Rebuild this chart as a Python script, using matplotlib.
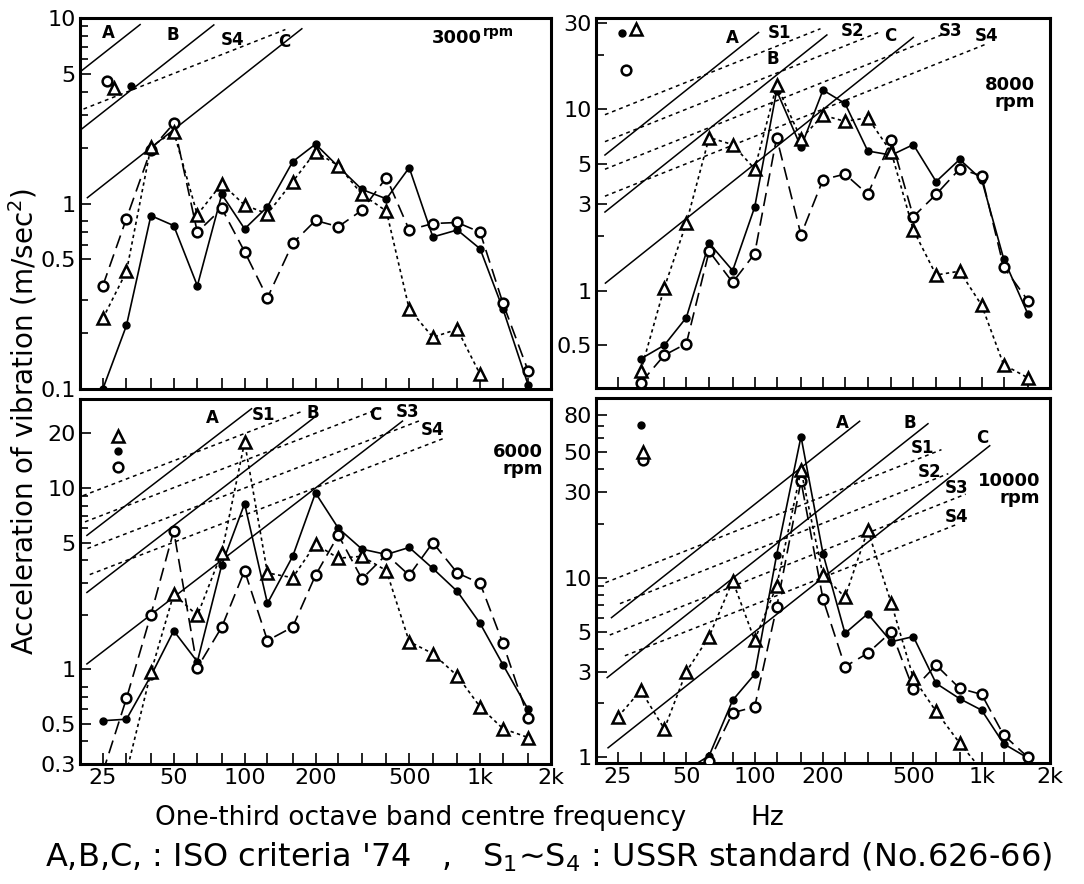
import numpy as np
import matplotlib.pyplot as plt
from matplotlib.ticker import FixedLocator, FixedFormatter, NullLocator

plt.rcParams['font.family'] = ['DejaVu Sans']

nan = np.nan

# one-third octave band centre frequencies (Hz)
freqs = [25, 31.5, 40, 50, 63, 80, 100, 125, 160, 200, 250, 315, 400, 500, 630, 800, 1000, 1250, 1600]

# 3000 rpm
r3000_dot = [0.1, 0.22, 0.86, 0.76, 0.36, 1.12, 0.73, 0.96, 1.68, 2.09, 1.58, 1.19, 1.06, 1.56, 0.66, 0.72, 0.57, 0.27, 0.105]
r3000_ring = [0.36, 0.83, 1.95, 2.7, 0.70, 0.94, 0.55, 0.31, 0.61, 0.81, 0.75, 0.92, 1.38, 0.72, 0.78, 0.79, 0.70, 0.29, 0.125]
r3000_tri = [0.24, 0.43, 2.02, 2.44, 0.87, 1.28, 0.98, 0.88, 1.31, 1.9, 1.6, 1.12, 0.91, 0.27, 0.19, 0.21, 0.12, nan, nan]

# 8000 rpm
r8000_dot = [nan, 0.42, 0.50, 0.71, 1.83, 1.29, 2.89, 12.7, 6.2, 12.8, 10.8, 5.9, 5.6, 6.4, 4.0, 5.3, 4.1, 1.5, 0.74]
r8000_ring = [nan, 0.31, 0.44, 0.51, 1.65, 1.11, 1.6, 7.0, 2.03, 4.1, 4.4, 3.4, 6.8, 2.56, 3.4, 4.7, 4.3, 1.35, 0.88]
r8000_tri = [nan, 0.36, 1.04, 2.36, 7.0, 6.4, 4.7, 13.6, 6.9, 9.3, 8.6, 9.0, 5.8, 2.16, 1.22, 1.28, 0.83, 0.39, 0.33]

# 6000 rpm
r6000_dot = [0.52, 0.53, 0.92, 1.63, 1.10, 3.77, 8.2, 2.31, 4.2, 9.4, 6.0, 4.6, 4.3, 4.7, 3.6, 2.69, 1.79, 1.06, 0.60]
r6000_ring = [0.27, 0.69, 2.0, 5.8, 1.02, 1.71, 3.5, 1.44, 1.71, 3.3, 5.5, 3.15, 4.3, 3.3, 5.0, 3.4, 2.98, 1.39, 0.54]
r6000_tri = [nan, 0.27, 0.96, 2.6, 1.98, 4.4, 17.9, 3.4, 3.2, 4.9, 4.1, 4.2, 3.5, 1.42, 1.22, 0.92, 0.62, 0.47, 0.42]

# 10000 rpm
r10000_dot = [nan, nan, nan, 0.85, 1.02, 2.08, 2.9, 13.4, 61, 13.6, 4.9, 6.3, 4.4, 4.7, 2.58, 2.12, 1.83, 1.19, 0.99]
r10000_ring = [nan, nan, nan, 0.8, 0.95, 1.77, 1.91, 6.85, 34.5, 7.6, 3.2, 3.8, 5.0, 2.39, 3.26, 2.42, 2.24, 1.33, 1.0]
r10000_tri = [1.68, 2.36, 1.44, 3.0, 4.7, 9.6, 4.5, 9.0, 39.6, 10.3, 7.8, 18.4, 7.2, 2.77, 1.80, 1.2, 0.85, nan, nan]

# overall values marked at the upper left of each panel (dot, ring, tri)
overall_3000 = [4.3, 4.6, 4.2]
overall_8000 = [26.4, 16.6, 27.9]
overall_6000 = [16.1, 13.1, 19.4]
overall_10000 = [71, 45, 50]

# criteria levels at 25 Hz; ISO lines rise with f, USSR with sqrt(f)
iso_levels = {'A': 6.4, 'B': 3.1, 'C': 1.25}
ussr_levels = {'S1': 10.0, 'S2': 7.1, 'S3': 5.0, 'S4': 3.55}

# drawn extent of each criterion line (Hz) per panel
extent_3000 = {'A': (20, 36), 'B': (20, 74), 'C': (21.5, 175), 'S4': (20.7, 149)}
extent_8000 = {'A': (21.9, 104), 'B': (21.9, 208), 'C': (22, 500),
               'S1': (21.9, 195), 'S2': (21.9, 355), 'S3': (21.9, 680), 'S4': (21.9, 1050)}
extent_6000 = {'A': (21.4, 107), 'B': (21.4, 204), 'C': (21.4, 468),
               'S1': (20.6, 175), 'S2': (21, 382), 'S3': (21.5, 555), 'S4': (22, 700)}
extent_10000 = {'A': (23.4, 290), 'B': (22.4, 580), 'C': (22.6, 1085),
                'S1': (22, 665), 'S2': (25.5, 713), 'S3': (23, 850), 'S4': (26.8, 790)}

# label spots for the criterion lines (freq, value)
labels_3000 = {'A': (26.3, 8.3), 'B': (49.6, 8.1), 'S4': (89, 7.6), 'C': (148, 7.4)}
labels_8000 = {'A': (80, 24.9), 'S1': (129, 26.5), 'B': (120, 18.9), 'S2': (270, 27),
               'C': (394, 25.6), 'S3': (726, 27), 'S4': (1056, 25.6)}
labels_6000 = {'A': (72.8, 24.4), 'S1': (120, 25.3), 'B': (195, 26), 'C': (358, 25.3),
               'S3': (494, 26.4), 'S4': (626, 20.9)}
labels_10000 = {'A': (243, 73), 'B': (484, 73), 'S1': (546, 53), 'C': (1002, 60),
                'S2': (592, 38.8), 'S3': (778, 31.4), 'S4': (778, 21.8)}

xtick_labels = {25: '25', 50: '50', 100: '100', 200: '200', 500: '500', 1000: '1k', 2000: '2k'}

W, H = 1084, 884
fig = plt.figure(figsize=(W / 100, H / 100), dpi=100)


def box(l, t, r, b):
    return [l / W, (H - b) / H, (r - l) / W, (b - t) / H]


panels = [
    dict(rect=box(80, 18, 551, 389), ylim=(0.1, 10), data=(r3000_dot, r3000_ring, r3000_tri),
         overall=overall_3000, ox=(33, 26, 28), extent=extent_3000, labels=labels_3000,
         yt=[0.1, 0.5, 1, 5, 10], ym=[0.2, 0.3, 0.6, 0.7, 0.8, 2, 3, 4, 6, 7, 8, 9],
         ytl=['0.1', '0.5', '1', '5', '10'], rpm='3000', xlab=False),
    dict(rect=box(596, 18, 1050, 388), ylim=(0.29, 32), data=(r8000_dot, r8000_ring, r8000_tri),
         overall=overall_8000, ox=(26, 27, 30), extent=extent_8000, labels=labels_8000,
         yt=[0.5, 1, 3, 5, 10, 30], ym=[2, 20],
         ytl=['0.5', '1', '3', '5', '10', '30'], rpm='8000', xlab=False),
    dict(rect=box(80, 399, 551, 764), ylim=(0.3, 31), data=(r6000_dot, r6000_ring, r6000_tri),
         overall=overall_6000, ox=(29, 29, 29), extent=extent_6000, labels=labels_6000,
         yt=[0.3, 0.5, 1, 5, 10, 20], ym=[0.4, 0.6, 0.7, 0.8, 2, 3, 4, 6, 7, 8, 9],
         ytl=['0.3', '0.5', '1', '5', '10', '20'], rpm='6000', xlab=True),
    dict(rect=box(596, 398, 1050, 763), ylim=(0.93, 100), data=(r10000_dot, r10000_ring, r10000_tri),
         overall=overall_10000, ox=(31.7, 32.3, 32.3), extent=extent_10000, labels=labels_10000,
         yt=[1, 3, 5, 10, 30, 50, 80], ym=[2, 4, 6, 7, 8, 9, 20, 40, 60, 70],
         ytl=['1', '3', '5', '10', '30', '50', '80'], rpm='10000', xlab=True),
]

for p in panels:
    ax = fig.add_axes(p['rect'])
    ax.set_xscale('log')
    ax.set_yscale('log')
    ax.set_xlim(20, 2000)
    ax.set_ylim(*p['ylim'])

    # criteria lines
    for name, (f0, f1) in p['extent'].items():
        fx = np.array([f0, f1])
        if name in iso_levels:
            ax.plot(fx, iso_levels[name] * fx / 25, color='k', lw=1.1)
        else:
            ax.plot(fx, ussr_levels[name] * np.sqrt(fx / 25), color='k', lw=1.1,
                    linestyle=(0, (2.5, 2.5)))
    for name, (fx, fy) in p['labels'].items():
        ax.text(fx, fy, name, fontsize=12, fontweight='bold', ha='center', va='center')

    dot, ring, tri = p['data']
    ax.plot(freqs, dot, color='k', lw=1.2, marker='o', ms=5, zorder=4)
    ax.plot(freqs, ring, color='k', lw=1.2, linestyle=(0, (8, 4)), marker='o', ms=7,
            mfc='white', mew=1.8, zorder=5)
    ax.plot(freqs, tri, color='k', lw=1.2, linestyle=(0, (2, 2)), marker='^', ms=9,
            mfc='white', mew=1.8, zorder=5)

    ov = p['overall']
    ox = p['ox']
    ax.plot(ox[0], ov[0], 'ko', ms=5)
    ax.plot(ox[1], ov[1], 'o', color='k', ms=7, mfc='white', mew=1.8)
    ax.plot(ox[2], ov[2], '^', color='k', ms=9, mfc='white', mew=1.8)

    if p['rpm'] == '3000':
        ax.text(0.854, 0.946, '3000', transform=ax.transAxes, fontsize=13,
                fontweight='bold', ha='right', va='center')
        ax.text(0.856, 0.962, 'rpm', transform=ax.transAxes, fontsize=10,
                fontweight='bold', ha='left', va='center')
    else:
        xr = {'8000': 0.967, '6000': 0.983, '10000': 0.978}[p['rpm']]
        yr = {'8000': 0.843, '6000': 0.879, '10000': 0.797}[p['rpm']]
        ax.text(xr, yr, p['rpm'] + '\nrpm', transform=ax.transAxes, fontsize=13,
                fontweight='bold', ha='right', va='top', multialignment='right',
                linespacing=0.9)

    # ticks
    xt = freqs + [2000]
    ax.xaxis.set_major_locator(FixedLocator(xt))
    if p['xlab']:
        ax.xaxis.set_major_formatter(FixedFormatter([xtick_labels.get(f, '') for f in xt]))
    else:
        ax.xaxis.set_major_formatter(FixedFormatter([''] * len(xt)))
    ax.xaxis.set_minor_locator(NullLocator())
    ax.yaxis.set_major_locator(FixedLocator(p['yt']))
    ax.yaxis.set_major_formatter(FixedFormatter(p['ytl']))
    ax.yaxis.set_minor_locator(FixedLocator(p['ym']))
    ax.tick_params(which='both', direction='in', width=1.2, labelsize=16, pad=3)
    ax.tick_params(which='major', length=8)
    ax.tick_params(which='minor', length=6)
    for s in ax.spines.values():
        s.set_linewidth(2.2)

fig.text(0.021, 0.523, 'Acceleration of vibration (m/sec$^2$)', rotation=90,
         fontsize=20, ha='center', va='center')
fig.text(0.143, 0.0747, 'One-third octave band centre frequency', fontsize=19,
         ha='left', va='center')
fig.text(0.708, 0.0747, 'Hz', fontsize=19, ha='center', va='center')
fig.text(0.0415, 0.0305,
         "A,B,C, : ISO criteria '74   ,   S$_1$~S$_4$ : USSR standard (No.626-66)",
         fontsize=23, ha='left', va='center')

fig.savefig('out.png', dpi=100)
